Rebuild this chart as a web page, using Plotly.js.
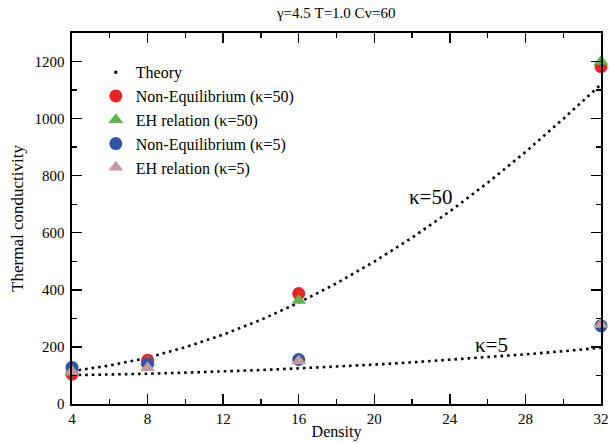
<!DOCTYPE html>
<html>
<head>
<meta charset="utf-8">
<script src="https://cdn.plot.ly/plotly-3.0.1.min.js"></script>
<style>html,body{margin:0;padding:0;background:#fff;}#chart{width:612px;height:443px;}</style>
</head>
<body>
<div id="chart"></div>
<script>
// Density values for the simulation points
var density = [4, 8, 16, 32];
// Simulation results
var neqK50 = [105, 153, 387, 1182];
var ehK50 = [110, 147, 363, 1200];
var neqK5 = [128, 140, 156, 274];
var ehK5 = [115, 127, 151, 279];
// Theory curves
var theoryX = [4, 6, 8, 10, 12, 14, 16, 18, 20, 22, 24, 26, 28, 30, 32];
var theoryK50 = [115, 135, 162, 199, 243, 295, 355, 423, 499, 583, 675, 775, 883, 999, 1120];
var theoryK5 = [101, 103, 106, 110, 114, 119, 125, 131, 138, 146, 155, 164, 174, 185, 197];
var xTicks = [4, 8, 12, 16, 20, 24, 28, 32];
var yTicks = [0, 200, 400, 600, 800, 1000, 1200];

var FAM = 'Liberation Serif, DejaVu Serif';
function f(size) { return {family: FAM, size: size, color: '#000'}; }
var dotLine = {color: '#000', width: 2.6, dash: '2.6px,4px'};

var traces = [
  {x: theoryX, y: theoryK50, mode: 'lines', line: dotLine, showlegend: false, hoverinfo: 'skip'},
  {x: theoryX, y: theoryK5, mode: 'lines', line: dotLine, showlegend: false, hoverinfo: 'skip'},
  {x: [null], y: [null], mode: 'markers', name: 'Theory', marker: {symbol: 'square', size: 3, color: '#000'}},
  {x: density, y: neqK50, mode: 'markers', name: 'Non-Equilibrium (κ=50)', cliponaxis: false,
   marker: {symbol: 'circle', size: 13, color: '#ec2227'}},
  {x: density, y: ehK50, mode: 'markers', name: 'EH relation (κ=50)', cliponaxis: false,
   marker: {symbol: 'triangle-up', size: 13, color: '#5cb947'}},
  {x: density, y: neqK5, mode: 'markers', name: 'Non-Equilibrium (κ=5)', cliponaxis: false,
   marker: {symbol: 'circle', size: 13, color: '#2f55a6'}},
  {x: density, y: ehK5, mode: 'markers', name: 'EH relation (κ=5)', cliponaxis: false,
   marker: {symbol: 'triangle-up', size: 13, color: '#c39a98'}}
];

function axis(extra) {
  var a = {
    showgrid: false, zeroline: false, showline: true, linecolor: '#000', linewidth: 1.6,
    mirror: 'allticks', ticks: 'inside', ticklen: 10, tickwidth: 1.4, tickcolor: '#000',
    tickfont: f(15)
  };
  for (var k in extra) a[k] = extra[k];
  return a;
}

var layout = {
  width: 612, height: 443,
  margin: {l: 72, r: 11, t: 33, b: 39},
  font: f(15),
  title: {text: 'γ=4.5 T=1.0 Cv=60', font: f(15),
          x: 0.5494, xanchor: 'center', y: 0.972, yanchor: 'middle'},
  xaxis: axis({
    range: [4, 32], tickmode: 'array', tickvals: xTicks, ticktext: xTicks.map(String),
    minor: {ticks: 'inside', ticklen: 5, tickwidth: 1.4, tickcolor: '#000', tickmode: 'array', tickvals: [6, 10, 14, 18, 22, 26, 30]},
    title: {text: 'Density', font: f(16), standoff: 0}
  }),
  yaxis: axis({
    range: [0, 1300], tickmode: 'array', tickvals: yTicks, ticktext: yTicks.map(String),
    minor: {ticks: 'inside', ticklen: 5, tickwidth: 1.4, tickcolor: '#000', tickmode: 'array', tickvals: [100, 300, 500, 700, 900, 1100]},
    ticklabelstandoff: 3,
    title: {text: 'Thermal conductivity', font: f(17), standoff: 6}
  }),
  legend: {
    x: 0.045, y: 0.94, xanchor: 'left', yanchor: 'top',
    bgcolor: 'rgba(0,0,0,0)', borderwidth: 0,
    font: f(16)
  },
  annotations: [
    {x: 22.95, y: 725, xref: 'x', yref: 'y', text: 'κ=50', showarrow: false, font: f(21)},
    {x: 26.2, y: 207, xref: 'x', yref: 'y', text: 'κ=5', showarrow: false, font: f(21)}
  ]
};

Plotly.newPlot('chart', traces, layout, {staticPlot: true});
</script>
</body>
</html>
